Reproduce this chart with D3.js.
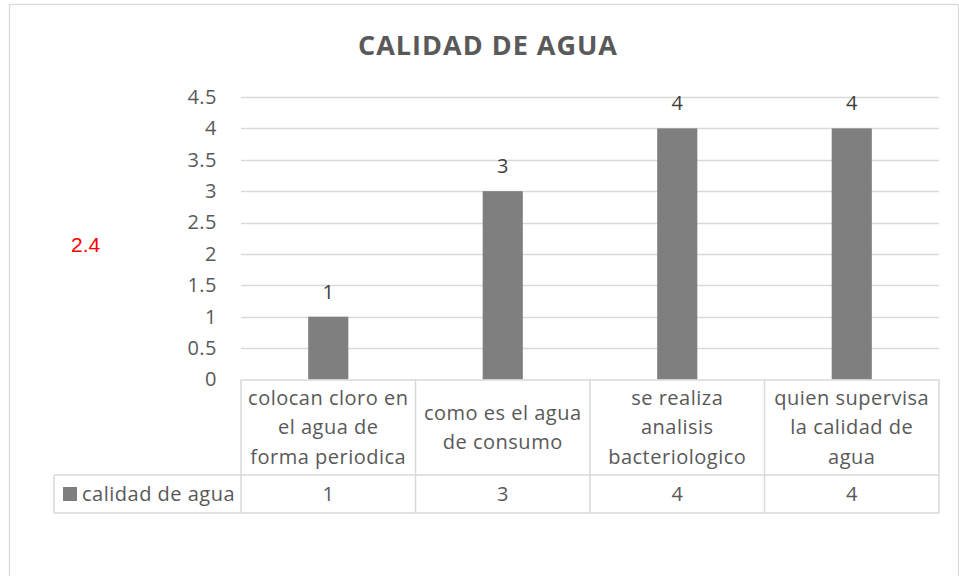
<!DOCTYPE html>
<html>
<head>
<meta charset="utf-8">
<script src="https://cdn.jsdelivr.net/npm/d3@7"></script>
<style>
  html, body { margin: 0; padding: 0; background: #ffffff; }
  svg { display: block; }
</style>
</head>
<body>
<svg id="chart" width="959" height="576"></svg>
<script>
// ---- data ----
const chartTitle = "CALIDAD DE AGUA";
const seriesName = "calidad de agua";
const categories = [
  "colocan cloro en el agua de forma periodica",
  "como es el agua de consumo",
  "se realiza analisis bacteriologico",
  "quien supervisa la calidad de agua"
];
const categoryLines = [
  ["colocan cloro en", "el agua de", "forma periodica"],
  ["como es el agua", "de consumo"],
  ["se realiza", "analisis", "bacteriologico"],
  ["quien supervisa", "la calidad de", "agua"]
];
const values = [1, 3, 4, 4];
const yTicks = [0, 0.5, 1, 1.5, 2, 2.5, 3, 3.5, 4, 4.5];
const floatingNote = "2.4";

// ---- layout ----
const svg = d3.select("#chart");
const font = "'Open Sans', 'Noto Sans', sans-serif";
const textColor = "#595959";
const gridColor = "#d9d9d9";
const barColor = "#7f7f7f";
const fs = 20, ls = 0.5;

const left = 241, right = 939, yTop = 97, yZero = 379.5;
const tableHeaderBottom = 475, tableBottom = 513, legendLeft = 54;

// outer frame
svg.append("rect")
  .attr("x", 9.5).attr("y", 4.5)
  .attr("width", 949).attr("height", 600)
  .attr("fill", "none").attr("stroke", gridColor).attr("stroke-width", 1.3);

const y = d3.scaleLinear().domain([0, 4.5]).range([yZero, yTop]);
const x = d3.scaleBand().domain(categories).range([left, right]).paddingInner(0).paddingOuter(0);
const barW = x.bandwidth() * 0.23;

// title
svg.append("text")
  .attr("x", 488).attr("y", 55)
  .attr("text-anchor", "middle")
  .attr("font-family", font).attr("font-weight", 700)
  .attr("font-size", 27).attr("letter-spacing", 1).attr("fill", textColor)
  .text(chartTitle);

// gridlines + y axis labels
const yAxis = d3.axisLeft(y).tickValues(yTicks).tickSize(0).tickPadding(24)
  .tickFormat(d => String(d));
const gy = svg.append("g").attr("transform", `translate(${left},0)`).call(yAxis);
gy.select(".domain").remove();
gy.selectAll("text")
  .attr("font-family", font).attr("font-size", fs).attr("letter-spacing", ls).attr("fill", textColor);

svg.append("g").selectAll("line")
  .data(yTicks.filter(d => d > 0))
  .join("line")
  .attr("x1", left).attr("x2", right)
  .attr("y1", d => Math.round(y(d)) + 0.5).attr("y2", d => Math.round(y(d)) + 0.5)
  .attr("stroke", gridColor).attr("stroke-width", 1.3);

// bars
svg.append("g").selectAll("rect")
  .data(values)
  .join("rect")
  .attr("x", (d, i) => x(categories[i]) + (x.bandwidth() - barW) / 2)
  .attr("y", d => y(d))
  .attr("width", barW)
  .attr("height", d => yZero - y(d))
  .attr("fill", barColor);

// data labels
svg.append("g").selectAll("text")
  .data(values)
  .join("text")
  .attr("x", (d, i) => x(categories[i]) + x.bandwidth() / 2)
  .attr("y", d => y(d) - 25)
  .attr("dy", "0.35em")
  .attr("text-anchor", "middle")
  .attr("font-family", font).attr("font-size", fs).attr("fill", "#404040")
  .text(d => d);

// data table
const table = svg.append("g").attr("fill", "none").attr("stroke", gridColor).attr("stroke-width", 1.5);
table.append("line").attr("x1", left).attr("x2", right).attr("y1", yZero + 0.5).attr("y2", yZero + 0.5);
table.append("line").attr("x1", legendLeft).attr("x2", right).attr("y1", tableHeaderBottom).attr("y2", tableHeaderBottom);
table.append("line").attr("x1", legendLeft).attr("x2", right).attr("y1", tableBottom).attr("y2", tableBottom);
table.append("line").attr("x1", legendLeft).attr("x2", legendLeft).attr("y1", tableHeaderBottom).attr("y2", tableBottom);
const vx = categories.map(c => x(c)).concat([right]);
table.selectAll("line.v").data(vx).join("line").attr("class", "v")
  .attr("x1", d => d).attr("x2", d => d).attr("y1", yZero).attr("y2", tableBottom);

// category labels
const headerMid = (yZero + tableHeaderBottom) / 2;
const lineH = 29.5;
const catG = svg.append("g").selectAll("text")
  .data(categories)
  .join("text")
  .attr("text-anchor", "middle")
  .attr("font-family", font).attr("font-size", fs).attr("letter-spacing", ls).attr("fill", textColor);
catG.each(function(c, i) {
  const lines = categoryLines[i];
  const n = lines.length;
  d3.select(this).selectAll("tspan").data(lines).join("tspan")
    .attr("x", x(c) + x.bandwidth() / 2)
    .attr("y", (l, j) => headerMid + (j - (n - 1) / 2) * lineH)
    .attr("dy", "0.35em")
    .text(l => l);
});

// value row
const rowMid = (tableHeaderBottom + tableBottom) / 2;
svg.append("g").selectAll("text")
  .data(values)
  .join("text")
  .attr("x", (d, i) => x(categories[i]) + x.bandwidth() / 2)
  .attr("y", rowMid).attr("dy", "0.35em")
  .attr("text-anchor", "middle")
  .attr("font-family", font).attr("font-size", fs).attr("fill", textColor)
  .text(d => d);

// legend key in table
svg.append("rect").attr("x", 63).attr("y", rowMid - 7).attr("width", 14).attr("height", 14).attr("fill", barColor);
svg.append("text").attr("x", 82).attr("y", rowMid).attr("dy", "0.35em")
  .attr("font-family", font).attr("font-size", fs).attr("letter-spacing", ls).attr("fill", textColor)
  .text(seriesName);

// floating red note
svg.append("text").attr("x", 71).attr("y", 245).attr("dy", "0.35em")
  .attr("font-family", "'Liberation Sans', Arial, sans-serif").attr("font-size", 21).attr("fill", "#ff0000")
  .text(floatingNote);
</script>
</body>
</html>
